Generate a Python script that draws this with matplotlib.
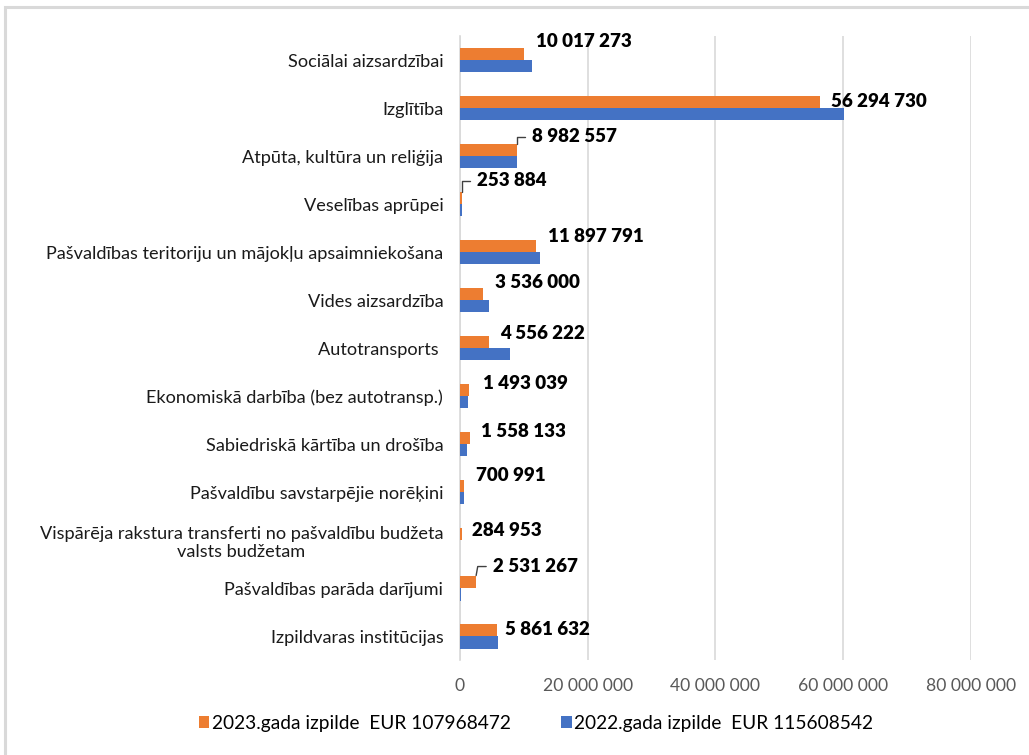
import numpy as np
import matplotlib.pyplot as plt
from matplotlib.patches import Rectangle
from matplotlib.ticker import FuncFormatter

plt.rcParams['font.family'] = ['Lato', 'DejaVu Sans']

categories = ['Sociālai aizsardzībai',
              'Izglītība',
              'Atpūta, kultūra un reliģija',
              'Veselības aprūpei',
              'Pašvaldības teritoriju un mājokļu apsaimniekošana',
              'Vides aizsardzība',
              'Autotransports ',
              'Ekonomiskā darbība (bez autotransp.)',
              'Sabiedriskā kārtība un drošība',
              'Pašvaldību savstarpējie norēķini',
              'Vispārēja rakstura transferti no pašvaldību budžeta\nvalsts budžetam',
              'Pašvaldības parāda darījumi',
              'Izpildvaras institūcijas']

# 2023 (labelled in the chart)
izpilde_2023 = [10017273, 56294730, 8982557, 253884, 11897791, 3536000, 4556222,
                1493039, 1558133, 700991, 284953, 2531267, 5861632]
izpilde_2022 = [11300000, 60100000, 9000000, 350000, 12600000, 4500000, 7900000,
                1300000, 1150000, 700000, 0, 200000, 6000000]

label_2023 = '2023.gada izpilde  EUR 107968472'
label_2022 = '2022.gada izpilde  EUR 115608542'

# label offsets (pixels) from end of orange bar, and leader-line flag
lab_dx = [12, 11, 15, 15, 12, 12, 11, 14, 11, 12, 10, 17, 8]
lab_dy = [12, 0, 5, 9, 9, 11, 8, 6, 6, 10, 3, 7, 0]
leader = [None, None, 90, 90, None, None, None, None, None, None, None, 80, None]

orange = '#ED7D31'
blue = '#4472C4'

fig = plt.figure(figsize=(10.29, 7.55), dpi=100)
fig.patches.append(Rectangle((5/1029, -0.05), 1.2, 1 - 7/755 + 0.05, transform=fig.transFigure,
                             fill=False, edgecolor='#D9D9D9', linewidth=2.2, zorder=0))
ax = fig.add_axes([0.447, 0.1258, 0.4966, 0.8265])

y = np.arange(len(categories))
h = 0.26
ax.barh(y - h/2, izpilde_2023, height=h, color=orange, label=label_2023, zorder=3)
ax.barh(y + h/2, izpilde_2022, height=h, color=blue, label=label_2022, zorder=3)

ax.set_ylim(len(categories) - 0.5, -0.5)
ax.set_xlim(0, 80000000)
ax.set_xticks(np.arange(0, 80000001, 20000000))
ax.xaxis.set_major_formatter(FuncFormatter(lambda v, p: '{:,.0f}'.format(v).replace(',', ' ')))
ax.grid(axis='x', color='#D9D9D9', linewidth=1.2, zorder=0)
ax.set_axisbelow(True)
for s in ['top', 'right', 'bottom']:
    ax.spines[s].set_visible(False)
ax.spines['left'].set_color('#D9D9D9')
ax.spines['left'].set_linewidth(1.2)

ax.set_yticks(y)
ax.set_yticklabels(categories, fontsize=13.1, color='#1a1a1a')
for t in ax.get_yticklabels():
    t.set_multialignment('center')
ax.tick_params(axis='y', length=0, pad=12)
ax.tick_params(axis='x', length=0, pad=13, labelsize=12.6, labelcolor='#595959')

for i, v in enumerate(izpilde_2023):
    txt = '{:,.0f}'.format(v).replace(',', ' ')
    if leader[i] is None:
        ax.annotate(txt, xy=(v, i - h/2), xytext=(lab_dx[i], lab_dy[i]), textcoords='offset pixels',
                    ha='left', va='center', fontsize=13.5, fontweight='heavy', color='black')
    else:
        ax.annotate(txt, xy=(v, i - h), xytext=(lab_dx[i], lab_dy[i] + 2), textcoords='offset pixels',
                    ha='left', va='center', fontsize=13.5, fontweight='heavy', color='black',
                    arrowprops=dict(arrowstyle='-', color='#404040', lw=1, shrinkA=3, shrinkB=0,
                                    relpos=(0, 0.5),
                                    connectionstyle='angle,angleA=0,angleB=%d,rad=0' % leader[i]))

fig.legend(loc='center', bbox_to_anchor=(0.521, 0.042), ncol=2, frameon=False, fontsize=13.8,
           handlelength=0.55, handleheight=0.55, handletextpad=0.15, columnspacing=2.6)

plt.savefig('out.png', dpi=100)
